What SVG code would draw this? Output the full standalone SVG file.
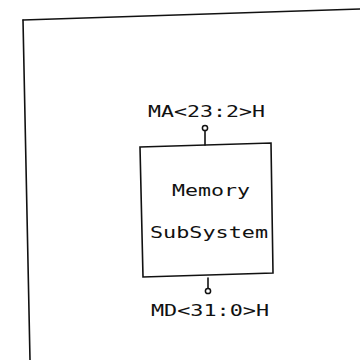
<svg xmlns="http://www.w3.org/2000/svg" width="360" height="360" viewBox="0 0 360 360">
<style>
.ln{stroke:#111;stroke-width:1.6;fill:none;stroke-linecap:round}
.pin{stroke:#111;stroke-width:1.5;fill:#fff}
.t{font-family:"DejaVu Sans Mono","Liberation Mono",monospace;font-size:16px;fill:#111}
</style>
<rect width="360" height="360" fill="#fff"/>
<g id="frame">
<path class="ln" d="M23,20 L360,9"/>
<path class="ln" d="M23,20 L30,360"/>
</g>
<g id="memory">
<path class="ln" d="M140,147 L271,143 L273,273 L143,277 Z"/>
<text class="t" x="172" y="196" textLength="78" lengthAdjust="spacingAndGlyphs">Memory</text>
<text class="t" x="150" y="238" textLength="118" lengthAdjust="spacingAndGlyphs">SubSystem</text>
</g>
<g id="connectors">
<path class="ln" d="M205,131 L205,145"/>
<circle class="pin" cx="205" cy="128" r="2.6"/>
<path class="ln" d="M208,278 L208,288"/>
<circle class="pin" cx="208" cy="291" r="2.6"/>
</g>
<g id="labels">
<text class="t" x="148" y="117" textLength="117" lengthAdjust="spacingAndGlyphs">MA&lt;23:2&gt;H</text>
<text class="t" x="151" y="316" textLength="118" lengthAdjust="spacingAndGlyphs">MD&lt;31:0&gt;H</text>
</g>
</svg>
